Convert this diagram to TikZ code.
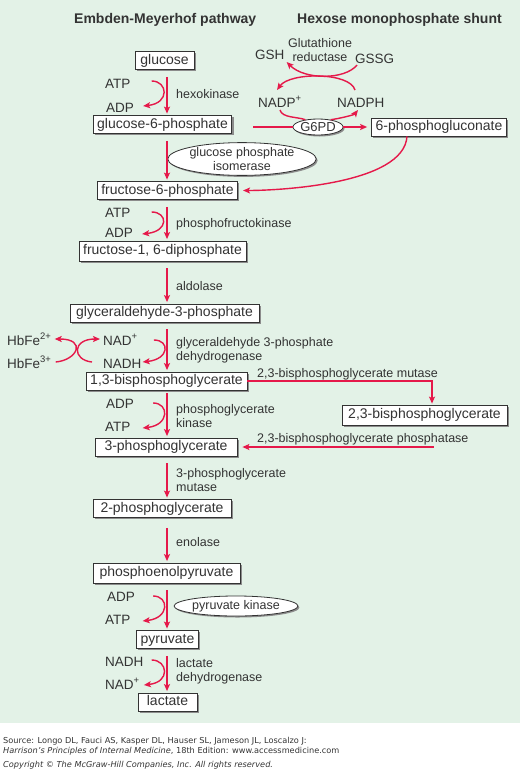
\documentclass[tikz,border=0pt]{standalone}
\usepackage{fontspec}
\setmainfont{Liberation Sans}
\newfontfamily\srcfont{DejaVu Sans}
\usetikzlibrary{arrows.meta,shapes.geometric,shadows,calc}
\definecolor{bggreen}{HTML}{E3F2E7}
\definecolor{pathred}{HTML}{E5194A}
\definecolor{inkgrey}{HTML}{333333}
\definecolor{shadowgrey}{HTML}{8C8C8C}
\tikzset{
  box/.style={draw=inkgrey, line width=0.8pt, fill=white, inner xsep=4pt, inner ysep=0pt,
    minimum height=18pt, text height=10.5pt, text depth=3pt,
    font=\fontsize{14}{16}\selectfont, text=inkgrey,
    drop shadow={shadow xshift=1.8pt, shadow yshift=-1.8pt, fill=shadowgrey, opacity=1}},
  enzell/.style={ellipse, draw=inkgrey, line width=0.8pt, fill=white, inner sep=0pt,
    font=\fontsize{12.5}{14}\selectfont, text=inkgrey, align=center,
    drop shadow={shadow xshift=1.5pt, shadow yshift=-1.5pt, fill=shadowgrey, opacity=1}},
  lab/.style={inner sep=0pt, font=\fontsize{12.5}{14}\selectfont, text=inkgrey, align=left},
  cof/.style={inner sep=0pt, font=\fontsize{13.5}{15}\selectfont, text=inkgrey, anchor=base west},
  head/.style={inner sep=0pt, font=\fontsize{14}{16}\selectfont\bfseries, text=inkgrey, anchor=base west},
  src/.style={inner sep=0pt, font=\srcfont\fontsize{8.2}{9}\selectfont, text=inkgrey, anchor=base west},
  arr/.style={draw=pathred, line width=1.4pt, -{Stealth[length=7pt,width=6pt,inset=1.5pt]}},
  plain/.style={draw=pathred, line width=1.4pt},
  vstep/.style={arr, shorten <=7pt, shorten >=1.5pt},
}
\begin{document}
\begin{tikzpicture}[x=1pt,y=-1pt]
\useasboundingbox (0,0) rectangle (520,769);
\fill[bggreen] (0,0) rectangle (520,723);

% headers
\node[head] (h1) at (74,23) {Embden-Meyerhof pathway};
\node[head] (h2) at (297,23) {Hexose monophosphate shunt};

% boxes
\node[box, minimum width=59pt]  (glc)   at (164.5,60.5) {glucose};
\node[box, minimum width=135pt] (g6p)   at (162.5,124.5) {glucose-6-phosphate};
\node[box, minimum width=134pt] (pg6)   at (439,127) {6-phosphogluconate};
\node[box, minimum width=137pt] (f6p)   at (167.5,190.5) {fructose-6-phosphate};
\node[box, minimum width=167pt, minimum height=20pt] (f16) at (162.5,251) {fructose-1, 6-diphosphate};
\node[box, minimum width=189pt] (gap)   at (164.5,313) {glyceraldehyde-3-phosphate};
\node[box, minimum width=161pt] (bpg13) at (166.5,381) {1,3-bisphosphoglycerate};
\node[box, minimum width=165pt, minimum height=20pt] (bpg23) at (424.5,415) {2,3-bisphosphoglycerate};
\node[box, minimum width=142pt] (pg3)   at (166,447) {3-phosphoglycerate};
\node[box, minimum width=138pt] (pg2)   at (162,508.5) {2-phosphoglycerate};
\node[box, minimum width=147pt, minimum height=20pt] (pep) at (166.5,573) {phosphoenolpyruvate};
\node[box, minimum width=59pt]  (pyr)   at (167.5,639.5) {pyruvate};
\node[box, minimum width=59pt]  (lac)   at (167.5,702) {lactate};

% enzyme ellipses
\node[enzell, minimum width=135pt, minimum height=30pt] (gpi) at (242,159) {glucose phosphate\\isomerase};
\node[enzell, minimum width=50pt, minimum height=16pt, font=\fontsize{13}{14}\selectfont] (g6pd) at (318,127) {G6PD};
\node[enzell, minimum width=122pt, minimum height=20pt] (pk) at (236,606) {pyruvate kinase};

% enzyme labels
\node[lab, anchor=base west] (hk)  at (176,98) {hexokinase};
\node[lab, anchor=base west] (pfk) at (176,227) {phosphofructokinase};
\node[lab, anchor=base west] (ald) at (176,290) {aldolase};
\node[lab, anchor=west] (gapdh) at (176,350) {glyceraldehyde 3-phosphate\\dehydrogenase};
\node[lab, anchor=west] (pgk) at (176,416.5) {phosphoglycerate\\kinase};
\node[lab, anchor=west] (pgm) at (176,480.5) {3-phosphoglycerate\\mutase};
\node[lab, anchor=base west] (eno) at (176,546) {enolase};
\node[lab, anchor=west] (ldh) at (176,671.5) {lactate\\dehydrogenase};
\node[lab, anchor=base west] (bpgm) at (257,377) {2,3-bisphosphoglycerate mutase};
\node[lab, anchor=base west] (bpgp) at (257,442) {2,3-bisphosphoglycerate phosphatase};
\node[lab, align=center] (gr) at (320,50) {Glutathione\\reductase};

% cofactors
\node[cof] (atp1) at (105,88) {ATP};
\node[cof] (adp1) at (106,112) {ADP};
\node[cof] (atp2) at (105,217) {ATP};
\node[cof] (adp2) at (105,237) {ADP};
\node[cof] (nad1) at (103,345) {NAD\textsuperscript{+}};
\node[cof] (nadh1) at (103,368) {NADH};
\node[cof] (adp3) at (106,408) {ADP};
\node[cof] (atp3) at (105,431) {ATP};
\node[cof] (adp4) at (107,601) {ADP};
\node[cof] (atp4) at (105,624) {ATP};
\node[cof] (nadh2) at (105,666) {NADH};
\node[cof] (nad2) at (105,689) {NAD\textsuperscript{+}};
\node[cof] (hb2) at (7,345) {HbFe\textsuperscript{2+}};
\node[cof] (hb3) at (7,368) {HbFe\textsuperscript{3+}};
\node[cof] (gsh) at (255,59) {GSH};
\node[cof] (gssg) at (355,63) {GSSG};
\node[cof] (nadp) at (258,107) {NADP\textsuperscript{+}};
\node[cof] (nadph) at (337,107) {NADPH};

% main column
\coordinate (col) at (167,0);
\draw[vstep] (glc.south -| col) -- (g6p.north -| col);
\draw[vstep] (g6p.south -| col) -- (f6p.north -| col);
\draw[vstep] (f6p.south -| col) -- (f16.north -| col);
\draw[vstep] (f16.south -| col) -- (gap.north -| col);
\draw[vstep] (gap.south -| col) -- (bpg13.north -| col);
\draw[vstep, shorten <=3pt] (bpg13.south -| col) -- (pg3.north -| col);
\draw[vstep] (pg3.south -| col) -- (pg2.north -| col);
\draw[vstep, shorten <=10pt] (pg2.south -| col) -- (pep.north -| col);
\draw[vstep] (pep.south -| col) -- (pyr.north -| col);
\draw[vstep] (pyr.south -| col) -- (lac.north -| col);

% cofactor side curves
\draw[arr] ([xshift=21pt,yshift=7pt]atp1.base east) .. controls +(16,0) and +(27,-3) .. ([xshift=9pt,yshift=6pt]adp1.base east);
\draw[arr] ([xshift=21pt,yshift=5pt]atp2.base east) .. controls +(16,0) and +(27,-3) .. ([xshift=9pt,yshift=3pt]adp2.base east);
\draw[arr] ([xshift=16pt,yshift=5pt]nad1.base east) .. controls +(16,0) and +(27,-3) .. ([xshift=1pt,yshift=6pt]nadh1.base east);
\draw[arr] ([xshift=19pt,yshift=5pt]adp3.base east) .. controls +(16,0) and +(27,-3) .. ([xshift=12pt,yshift=3pt]atp3.base east);
\draw[arr] ([xshift=18pt,yshift=5pt]adp4.base east) .. controls +(16,0) and +(27,-3) .. ([xshift=12pt,yshift=3pt]atp4.base east);
\draw[arr] ([xshift=8pt,yshift=6pt]nadh2.base east) .. controls +(16,0) and +(27,-3) .. ([xshift=4pt,yshift=4pt]nad2.base east);

% methaemoglobin reduction
\draw[arr] ([xshift=4pt,yshift=6pt]hb3.base east) .. controls +(22,-2) and +(32,0) .. ([xshift=3pt,yshift=6pt]hb2.base east);
\draw[arr] ([xshift=-11pt,yshift=6pt]nadh1.base west) .. controls +(-20,-2) and +(-28,0) .. ([xshift=-3pt,yshift=6pt]nad1.base west);

% hexose monophosphate shunt
\draw[arr] ([xshift=2pt,yshift=-2pt]gssg.base west) .. controls +(-12,15) and +(18,18) .. ([xshift=2pt,yshift=-3pt]gsh.base east);
\draw[arr] ([xshift=18pt,yshift=17pt]nadph.base west) .. controls +(-5,-18) and +(13,-18) .. ([xshift=19pt,yshift=17pt]nadp.base west);
\draw[plain] ([xshift=22pt,yshift=-3pt]nadp.base west) .. controls +(2,8) and +(-8,-3) .. (g6pd.150);
\draw[arr] (g6pd.30) .. controls +(8,-1) and +(-4,5) .. ([xshift=21pt,yshift=-3pt]nadph.base west);
\draw[plain, shorten <=21pt] (g6pd.west -| g6p.east) -- (g6pd.west);
\draw[arr, shorten >=4pt] (g6pd.east) -- (pg6.west |- g6pd.east);
\draw[arr, shorten >=5pt] ([xshift=-32pt]pg6.south) .. controls +(-3,48) and +(40,0) .. (f6p.east);

% 2,3-BPG shunt
\draw[arr, shorten >=1pt] (bpg13.east) -| ([xshift=7.5pt]bpg23.north);
\draw[arr, shorten >=5pt] ([xshift=8.5pt,yshift=-21pt]bpg23.south) |- (pg3.east);

% source lines
\node[src] (s1) at (3,743) {Source: Longo DL, Fauci AS, Kasper DL, Hauser SL, Jameson JL, Loscalzo J:};
\node[src] (s2) at (3,753) {\textit{Harrison’s Principles of Internal Medicine}, 18th Edition: www.accessmedicine.com};
\node[src] (s3) at (3,767) {\textit{Copyright © The McGraw-Hill Companies, Inc. All rights reserved.}};
\end{tikzpicture}
\end{document}
